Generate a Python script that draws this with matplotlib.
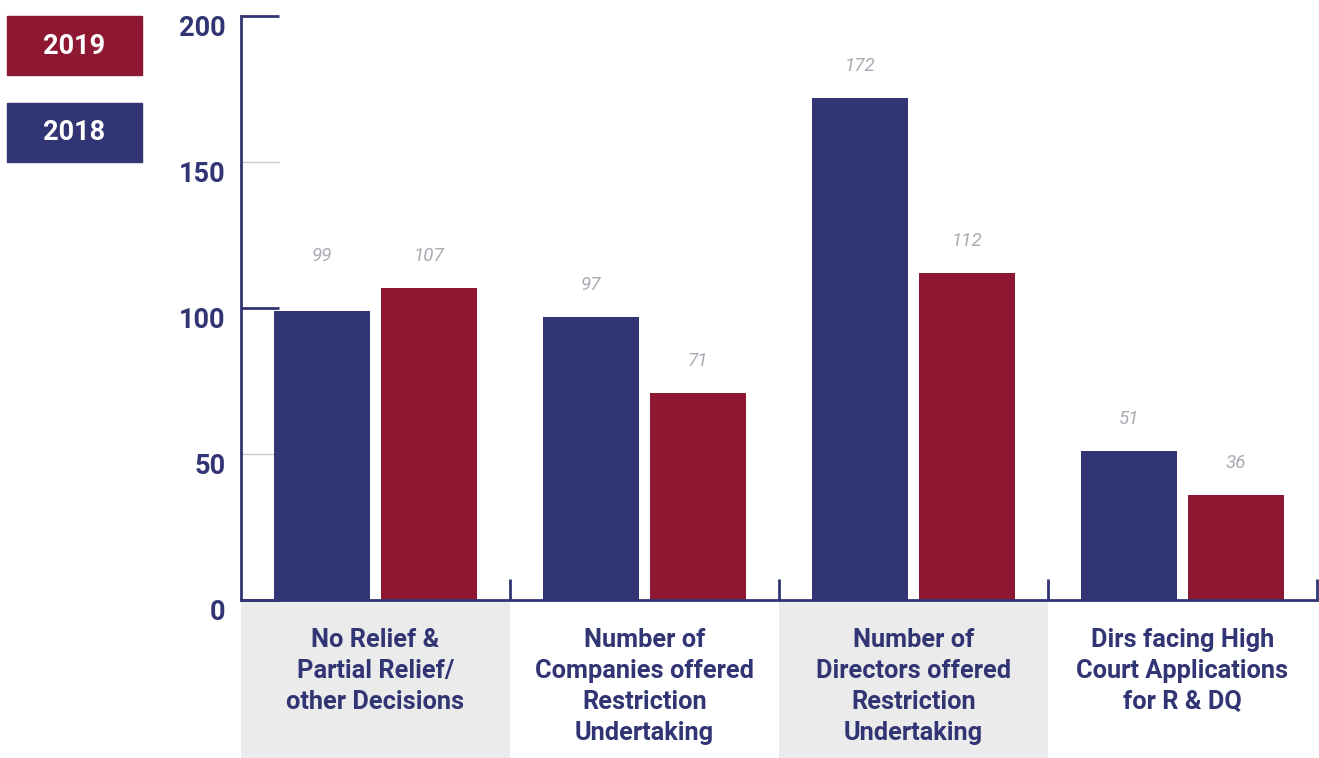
import numpy as np
import matplotlib.pyplot as plt
import matplotlib.transforms as mtransforms
from matplotlib.patches import Rectangle

categories = ["No Relief &\nPartial Relief/\nother Decisions",
              "Number of\nCompanies offered\nRestriction\nUndertaking",
              "Number of\nDirectors offered\nRestriction\nUndertaking",
              "Dirs facing High\nCourt Applications\nfor R & DQ"]
values_2018 = [99, 97, 172, 51]
values_2019 = [107, 71, 112, 36]
years = ["2019", "2018"]
yticks = [0, 50, 100, 150, 200]

navy = "#313573"
red = "#8e1831"
grey_txt = "#a9abb3"
band = "#ebebeb"

plt.rcParams['font.family'] = ['Roboto', 'DejaVu Sans']

fig = plt.figure(figsize=(13.19, 7.58), dpi=100)
ax = fig.add_axes([241/1319, 1-600/758, 1076/1319, 584/758])

x = np.arange(len(categories))
w = 0.36
off = 0.199
ax.bar(x - off, values_2018, w, color=navy, zorder=2)
ax.bar(x + off, values_2019, w, color=red, zorder=2)

# value labels (pairs close together share a baseline)
for i in range(len(x)):
    a, b = values_2018[i], values_2019[i]
    ya, yb = a, b
    if abs(a - b) < 10:
        ya = yb = max(a, b)
    ax.annotate(str(a), (x[i] - off, ya), xytext=(0, 32), textcoords="offset pixels",
                ha="center", va="center", fontsize=13.5, style="italic", color=grey_txt)
    ax.annotate(str(b), (x[i] + off, yb), xytext=(0, 32), textcoords="offset pixels",
                ha="center", va="center", fontsize=13.5, style="italic", color=grey_txt)

ax.set_xlim(-0.5, 3.5)
ax.set_ylim(0, 200)

for s in ["top", "right"]:
    ax.spines[s].set_visible(False)
ax.spines["left"].set_color(navy)
ax.spines["bottom"].set_color(navy)
ax.spines["left"].set_linewidth(2)
ax.spines["bottom"].set_linewidth(2)

ax.set_yticks(yticks)
ax.tick_params(axis="y", direction="in", length=27, width=2,
               color=navy, labelcolor=navy, labelsize=19.5, pad=11)
for t, v in zip(ax.yaxis.get_major_ticks(), yticks):
    if v % 100:
        t.tick1line.set_markeredgecolor("#c8c9d6")
        t.tick1line.set_markeredgewidth(1)
for lbl in ax.get_yticklabels():
    lbl.set_fontweight("bold")
    lbl.set_transform(lbl.get_transform() +
                      mtransforms.ScaledTranslation(0, -10/100, fig.dpi_scale_trans))

# category separators
ax.set_xticks([0.5, 1.5, 2.5, 3.5])
ax.set_xticklabels([])
ax.tick_params(axis="x", direction="in", length=15, width=2, color=navy)

# grey bands and category labels below axis
for i, cat in enumerate(categories):
    if i % 2 == 0:
        ax.add_patch(Rectangle((i - 0.5, 0), 1, -158/2.92, color=band,
                               clip_on=False, zorder=0, linewidth=0))
    ax.text(i, -9.5, cat, ha="center", va="top", fontsize=18.3, fontweight="bold",
            color=navy, linespacing=1.37)

# legend boxes
fig.patches.append(Rectangle((7/1319, 1-75/758), 135/1319, 59/758,
                             transform=fig.transFigure, color=red))
fig.patches.append(Rectangle((7/1319, 1-162/758), 135/1319, 59/758,
                             transform=fig.transFigure, color=navy))
fig.text(74.5/1319, 1-46/758, years[0], ha="center", va="center",
         fontsize=19.5, fontweight="bold", color="white")
fig.text(74.5/1319, 1-133/758, years[1], ha="center", va="center",
         fontsize=19.5, fontweight="bold", color="white")

fig.savefig("out.png", dpi=100)
